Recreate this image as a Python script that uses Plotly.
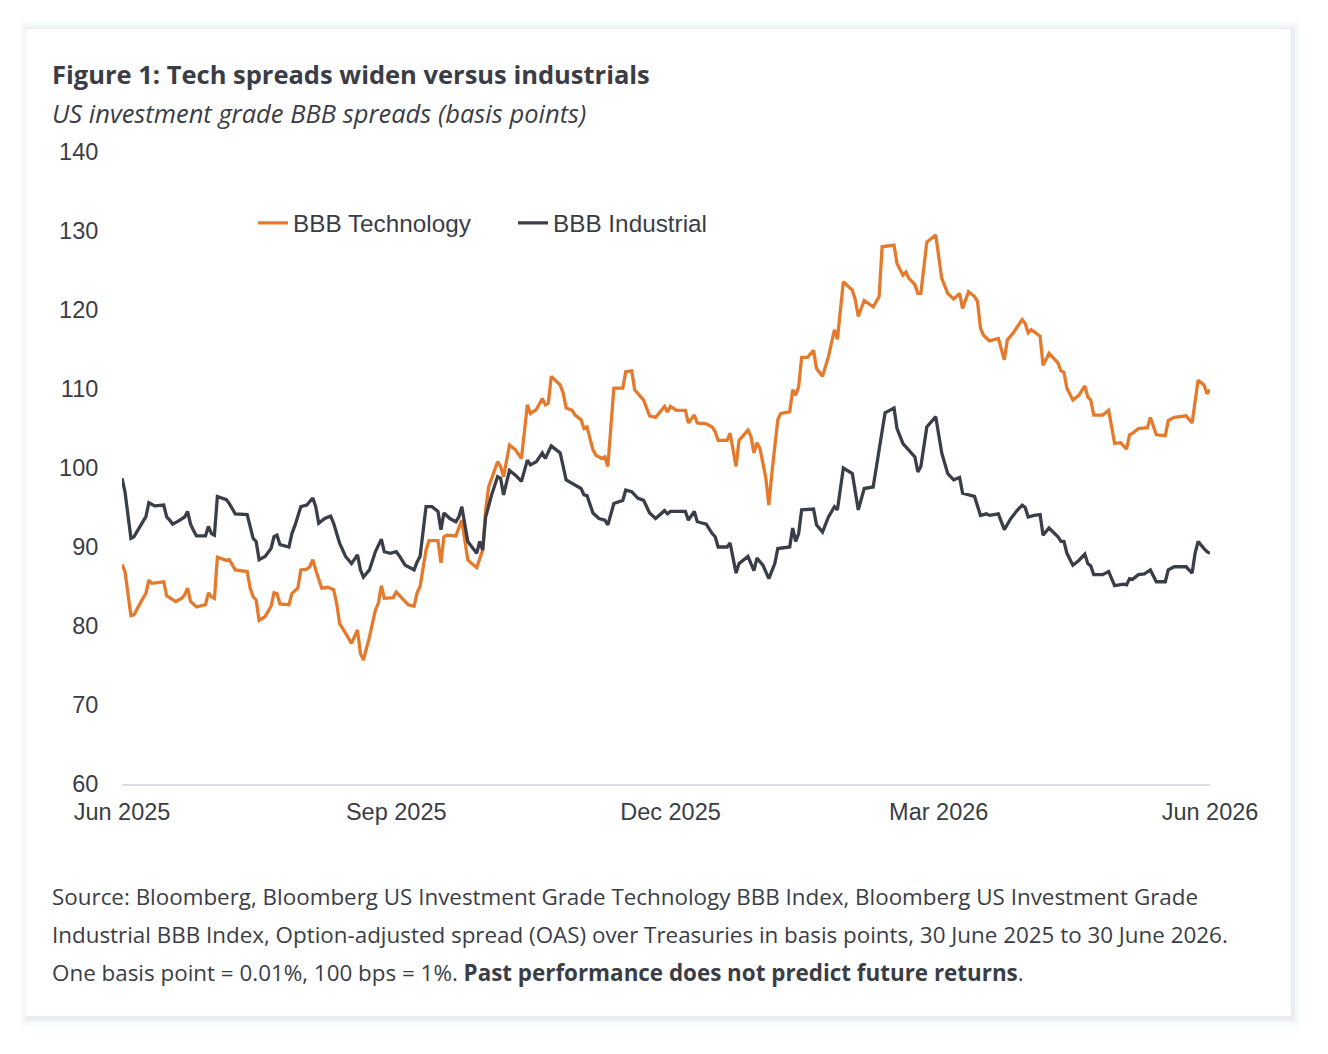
import pandas as pd
import plotly.graph_objects as go

# ---------------- data ----------------
START_DATE = "2025-06-30"
END_DATE = "2026-06-30"

# days since 30 June 2025 for each observation, and the spread in basis points
tech_days = [
    0, 1, 3, 4, 7, 8, 9, 10, 14, 15,
    16, 18, 20, 21, 22, 23, 25, 28, 29, 30,
    31, 32, 35, 36, 38, 42, 43, 44, 45, 46,
    48, 50, 51, 52, 53, 56, 57, 59, 60, 62,
    63, 64, 65, 67, 69, 71, 72, 73, 75, 77,
    79, 80, 81, 83, 85, 86, 87, 88, 91, 92,
    94, 96, 98, 99, 100, 101, 102, 103, 106, 107,
    108, 109, 112, 114, 116, 117, 119, 121, 122, 123,
    126, 127, 128, 130, 132, 134, 136, 137, 139, 141,
    142, 143, 144, 147, 148, 149, 151, 152, 154, 155,
    156, 158, 159, 161, 162, 163, 165, 168, 169, 171,
    172, 175, 177, 179, 182, 183, 184, 186, 189, 190,
    192, 193, 196, 198, 199, 200, 203, 204, 205, 206,
    207, 210, 211, 212, 213, 214, 216, 217, 218, 220,
    221, 224, 225, 226, 227, 228, 230, 232, 233, 235,
    237, 239, 240, 242, 245, 246, 247, 249, 252, 254,
    255, 259, 260, 262, 263, 264, 266, 267, 268, 270,
    273, 275, 277, 279, 281, 282, 284, 286, 287, 288,
    289, 291, 294, 296, 297, 299, 302, 303, 304, 305,
    308, 309, 311, 314, 315, 316, 317, 319, 321, 323,
    324, 325, 326, 329, 331, 333, 335, 337, 338, 339,
    341, 344, 345, 347, 350, 351, 353, 357, 359, 360,
    361, 363, 364, 365,
]
tech_bps = [
    87.8, 86.9, 81.3, 81.4, 83.5, 84.1, 85.8, 85.4, 85.6, 83.8,
    83.6, 83.1, 83.5, 83.9, 84.8, 83.1, 82.4, 82.7, 84.2, 83.7,
    83.5, 88.7, 88.3, 88.4, 87.1, 86.9, 84.8, 83.7, 83.3, 80.7,
    81.2, 82.5, 84.2, 84.1, 82.8, 82.7, 84.1, 84.8, 87.1, 87.2,
    87.5, 88.4, 87.1, 84.8, 84.9, 84.6, 82.9, 80.3, 79.1, 77.8,
    79.5, 76.5, 75.7, 78.6, 82.0, 82.9, 85.1, 83.5, 83.6, 84.3,
    83.5, 82.7, 82.5, 84.2, 85.0, 87.1, 89.6, 90.8, 90.8, 88.0,
    91.3, 91.5, 91.4, 93.4, 88.4, 88.0, 87.4, 89.6, 94.7, 97.6,
    100.8, 100.2, 98.9, 102.9, 102.3, 101.2, 108.0, 106.9, 107.4, 108.8,
    108.0, 108.2, 111.6, 110.5, 109.5, 107.6, 107.3, 106.7, 106.1, 105.0,
    105.2, 102.3, 101.6, 101.2, 101.4, 100.2, 110.1, 110.1, 112.2, 112.3,
    109.9, 108.6, 106.6, 106.4, 107.8, 107.1, 107.8, 107.3, 107.3, 105.7,
    106.7, 105.7, 105.6, 105.2, 104.6, 103.5, 103.5, 104.4, 102.3, 100.2,
    103.5, 104.8, 104.0, 101.9, 103.2, 102.5, 98.7, 95.3, 99.3, 106.1,
    106.9, 107.1, 109.9, 109.2, 110.3, 114.0, 114.0, 114.9, 112.6, 111.6,
    114.1, 117.5, 116.3, 123.6, 122.5, 121.3, 119.2, 121.2, 120.4, 121.7,
    128.0, 128.2, 125.9, 124.4, 124.8, 124.0, 123.2, 122.1, 122.1, 128.6,
    129.5, 124.0, 122.1, 121.4, 122.1, 120.2, 122.3, 121.7, 121.1, 117.7,
    116.8, 116.1, 116.4, 113.7, 116.2, 117.1, 118.8, 118.3, 117.1, 117.5,
    116.7, 113.0, 114.5, 113.3, 112.3, 112.1, 110.1, 108.6, 109.2, 110.4,
    109.0, 108.6, 106.7, 106.7, 107.3, 103.1, 103.2, 102.4, 104.2, 104.4,
    105.0, 105.1, 106.4, 104.2, 104.1, 106.0, 106.4, 106.6, 105.7, 108.6,
    111.1, 110.5, 109.4, 109.9,
]

ind_days = [
    0, 1, 3, 4, 7, 8, 9, 11, 14, 15,
    16, 17, 19, 21, 22, 23, 24, 25, 28, 29,
    30, 31, 32, 35, 36, 38, 42, 43, 44, 45,
    46, 48, 50, 51, 52, 53, 56, 57, 58, 60,
    62, 64, 65, 66, 68, 70, 71, 73, 75, 77,
    79, 80, 81, 83, 85, 87, 88, 90, 92, 93,
    95, 97, 98, 99, 100, 102, 104, 106, 107, 108,
    110, 112, 113, 114, 115, 116, 119, 120, 121, 122,
    124, 126, 127, 128, 130, 132, 134, 136, 137, 139,
    141, 142, 144, 147, 149, 151, 154, 155, 156, 158,
    160, 162, 163, 165, 168, 169, 171, 173, 175, 177,
    179, 182, 183, 184, 189, 190, 192, 193, 196, 198,
    199, 200, 203, 204, 206, 207, 210, 212, 213, 215,
    217, 219, 220, 224, 225, 226, 227, 228, 232, 233,
    235, 237, 239, 240, 242, 245, 246, 247, 249, 252,
    254, 256, 259, 260, 262, 264, 266, 267, 268, 270,
    273, 275, 277, 279, 281, 282, 286, 288, 290, 291,
    294, 296, 298, 300, 302, 303, 304, 306, 308, 309,
    311, 314, 315, 316, 317, 319, 321, 323, 324, 325,
    326, 329, 331, 333, 336, 337, 338, 339, 341, 343,
    345, 347, 350, 351, 353, 357, 359, 360, 361, 363,
    364, 365,
]
ind_bps = [
    98.7, 97.0, 91.1, 91.3, 93.2, 93.8, 95.6, 95.2, 95.3, 93.8,
    93.4, 92.9, 93.3, 93.8, 94.5, 92.9, 92.1, 91.4, 91.4, 92.6,
    91.7, 91.5, 96.4, 96.0, 95.5, 94.2, 94.1, 92.6, 91.1, 90.7,
    88.4, 88.8, 89.8, 91.3, 91.5, 90.3, 90.0, 91.7, 92.7, 95.1,
    95.3, 96.2, 95.1, 93.0, 93.6, 93.9, 93.0, 90.5, 88.8, 87.9,
    89.0, 87.1, 86.2, 87.1, 89.4, 91.0, 89.4, 89.2, 89.4, 88.9,
    87.7, 87.3, 87.1, 88.1, 88.8, 95.1, 95.1, 94.5, 92.2, 94.3,
    93.6, 93.2, 93.8, 95.1, 92.6, 90.7, 89.2, 90.7, 89.6, 93.8,
    96.6, 98.9, 98.7, 96.6, 99.7, 99.1, 98.3, 101.0, 100.4, 100.8,
    101.9, 101.2, 102.8, 101.9, 98.5, 98.1, 97.4, 96.6, 96.5, 94.3,
    93.6, 93.4, 92.8, 95.5, 95.9, 97.2, 97.0, 96.2, 95.9, 94.3,
    93.6, 94.6, 94.2, 94.5, 94.5, 93.4, 94.5, 93.2, 92.9, 91.7,
    91.3, 90.0, 90.0, 90.5, 86.7, 87.9, 88.8, 87.0, 88.6, 87.7,
    86.0, 87.9, 89.8, 90.0, 92.4, 90.7, 91.7, 94.7, 94.8, 92.8,
    91.9, 93.8, 95.1, 94.7, 100.0, 99.3, 97.2, 94.7, 97.4, 97.6,
    102.3, 107.0, 107.6, 105.0, 103.1, 102.3, 101.4, 99.5, 100.2, 105.2,
    106.5, 101.9, 99.3, 98.5, 98.8, 96.8, 96.4, 94.0, 94.2, 94.0,
    94.2, 92.2, 93.5, 94.5, 95.3, 95.0, 93.8, 94.0, 94.1, 91.5,
    92.4, 91.3, 90.7, 90.7, 89.2, 87.7, 88.3, 89.1, 87.9, 87.6,
    86.5, 86.5, 86.9, 85.1, 85.3, 85.2, 86.0, 85.9, 86.5, 86.6,
    87.1, 85.6, 85.6, 87.1, 87.5, 87.5, 86.7, 89.2, 90.7, 89.8,
    89.4, 89.2,
]

y_ticks = [60, 70, 80, 90, 100, 110, 120, 130, 140]
x_tick_dates = ["2025-06-30", "2025-09-30", "2025-12-31", "2026-03-31", "2026-06-30"]
x_tick_labels = ["Jun 2025", "Sep 2025", "Dec 2025", "Mar 2026", "Jun 2026"]

series_names = ["BBB Technology", "BBB Industrial"]

title_text = "Figure 1: Tech spreads widen versus industrials"
subtitle_text = "US investment grade BBB spreads (basis points)"
source_lines = [
    "Source: Bloomberg, Bloomberg US Investment Grade Technology BBB Index, Bloomberg US Investment Grade",
    "Industrial BBB Index, Option-adjusted spread (OAS) over Treasuries in basis points, 30 June 2025 to 30 June 2026.",
    "One basis point = 0.01%, 100 bps = 1%. <b>Past performance does not predict future returns</b>.",
]

# ---------------- styling ----------------
W, H = 1328, 1054
L, R, T, B = 122, 118, 152, 270          # plot area 122..1210 x 152..784
ORANGE = "#E57A2C"
DARK = "#3A3E49"
TEXT = "#3A3D46"
AXIS_FONT = "Liberation Sans, Arial, sans-serif"
BODY_FONT = "Open Sans, sans-serif"

PW, PH = W - L - R, H - T - B


def px(x):
    return (x - L) / PW


def py(y):
    return (H - B - y) / PH


start = pd.Timestamp(START_DATE)
tech_x = start + pd.to_timedelta(tech_days, unit="D")
ind_x = start + pd.to_timedelta(ind_days, unit="D")

fig = go.Figure()
fig.add_trace(go.Scatter(x=tech_x, y=tech_bps, mode="lines", name=series_names[0],
                         line=dict(color=ORANGE, width=3.3)))
fig.add_trace(go.Scatter(x=ind_x, y=ind_bps, mode="lines", name=series_names[1],
                         line=dict(color=DARK, width=3.3)))

shapes = []
# soft card shadow
for d, op in [(9, 0.03), (7, 0.04), (5, 0.05), (3, 0.07), (1.5, 0.09)]:
    shapes.append(dict(type="rect", xref="paper", yref="paper", layer="below",
                       x0=px(26 - d + 2), x1=px(1291 + d + 1), y0=py(1016 + d + 2), y1=py(29 - d + 1),
                       line=dict(width=0), fillcolor=f"rgba(170,185,205,{op})"))
shapes.append(dict(type="rect", xref="paper", yref="paper", layer="below",
                   x0=px(26), x1=px(1291), y0=py(1016), y1=py(29),
                   line=dict(width=0), fillcolor="white"))

TEXT_X = 50
annotations = [
    dict(text=f"<b>{title_text}</b>", x=px(TEXT_X), y=py(74), xref="paper", yref="paper",
         xanchor="left", yanchor="middle", showarrow=False,
         font=dict(family=BODY_FONT, size=25.5, color=TEXT)),
    dict(text=f"<i>{subtitle_text}</i>", x=px(TEXT_X), y=py(113), xref="paper", yref="paper",
         xanchor="left", yanchor="middle", showarrow=False,
         font=dict(family=BODY_FONT, size=25.5, color=TEXT)),
]
for i, line in enumerate(source_lines):
    annotations.append(dict(text=line, x=px(TEXT_X), y=py(896 + 38 * i), xref="paper", yref="paper",
                            xanchor="left", yanchor="middle", showarrow=False,
                            font=dict(family=BODY_FONT, size=22.4, color=TEXT)))

fig.update_layout(
    width=W, height=H, autosize=False,
    margin=dict(l=L, r=R, t=T, b=B, pad=0),
    paper_bgcolor="white", plot_bgcolor="rgba(0,0,0,0)",
    showlegend=True,
    legend=dict(orientation="h", x=px(253), y=py(223), xanchor="left", yanchor="middle",
                bgcolor="rgba(0,0,0,0)", borderwidth=0,
                font=dict(family=AXIS_FONT, size=24.3, color=TEXT),
                entrywidth=215, entrywidthmode="pixels", itemwidth=30),
    shapes=shapes,
    annotations=annotations,
    xaxis=dict(type="date", range=[START_DATE, END_DATE], tickvals=x_tick_dates, ticktext=x_tick_labels,
               showgrid=False, zeroline=False, showline=True, linecolor="#DCDCE4", linewidth=1.5,
               ticks="outside", ticklen=6, tickcolor="rgba(0,0,0,0)",
               tickfont=dict(family=AXIS_FONT, size=23.5, color=TEXT), fixedrange=True),
    yaxis=dict(range=[60, 140], tickvals=y_ticks, showgrid=False, zeroline=False, showline=False,
               ticks="outside", ticklen=18, tickcolor="rgba(0,0,0,0)",
               tickfont=dict(family=AXIS_FONT, size=23.5, color=TEXT), fixedrange=True),
)

fig.write_html("out.html")
